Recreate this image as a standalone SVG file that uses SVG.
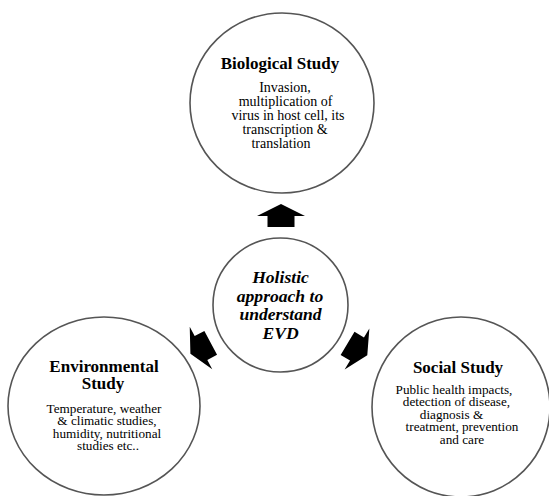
<svg xmlns="http://www.w3.org/2000/svg" width="549" height="496" viewBox="0 0 549 496">
<defs>
<style>
.c{fill:#fff;stroke:#555;stroke-width:1.6}
.t{font-family:"Liberation Serif","Times New Roman",serif;font-weight:bold;font-size:17px;fill:#000;text-anchor:middle}
.b{font-family:"Liberation Serif","Times New Roman",serif;font-size:13.2px;fill:#000;text-anchor:middle}
.h{font-family:"Liberation Serif","Times New Roman",serif;font-weight:bold;font-style:italic;font-size:17.6px;fill:#000;text-anchor:middle}
.a{fill:#000}
</style>
<polygon id="arr" points="0,-12 24,0 13.5,0 13.5,11 -13.5,11 -13.5,0 -24,0"/>
</defs>
<rect width="549" height="496" fill="#fff"/>
<g id="connectors">
<use href="#arr" class="a" transform="translate(281,216)"/>
<use href="#arr" class="a" transform="translate(357,349) rotate(121)"/>
<use href="#arr" class="a" transform="translate(201,348) rotate(-118)"/>
</g>
<g id="biological">
<ellipse class="c" cx="282" cy="103" rx="92" ry="90"/>
<text class="t" x="280" y="69">Biological Study</text>
<text class="b" style="font-size:14px" x="285" y="92">Invasion,</text>
<text class="b" style="font-size:14px" x="285.5" y="106">multiplication of</text>
<text class="b" style="font-size:14px" x="288" y="120">virus in host cell, its</text>
<text class="b" style="font-size:14px" x="285" y="134">transcription &amp;</text>
<text class="b" style="font-size:14px" x="281" y="148">translation</text>
</g>
<g id="holistic">
<ellipse class="c" cx="280.5" cy="305" rx="67.5" ry="67"/>
<text class="h" x="280.5" y="283">Holistic</text>
<text class="h" x="280" y="301.5">approach to</text>
<text class="h" x="280.5" y="320">understand</text>
<text class="h" x="280.5" y="338.5">EVD</text>
</g>
<g id="environmental">
<ellipse class="c" cx="104" cy="406" rx="96" ry="89"/>
<text class="t" x="104" y="372">Environmental</text>
<text class="t" x="103" y="389">Study</text>
<text class="b" x="104" y="412.5">Temperature, weather</text>
<text class="b" x="107" y="425">&amp; climatic studies,</text>
<text class="b" x="107" y="437.5">humidity, nutritional</text>
<text class="b" x="108" y="450">studies etc..</text>
</g>
<g id="social">
<ellipse class="c" cx="461" cy="407" rx="89" ry="90"/>
<text class="t" x="458" y="373">Social Study</text>
<text class="b" x="454" y="393.5">Public health impacts,</text>
<text class="b" x="456.5" y="406">detection of disease,</text>
<text class="b" x="451.5" y="418.5">diagnosis &amp;</text>
<text class="b" x="462" y="431">treatment, prevention</text>
<text class="b" x="462" y="443.5">and care</text>
</g>
</svg>
